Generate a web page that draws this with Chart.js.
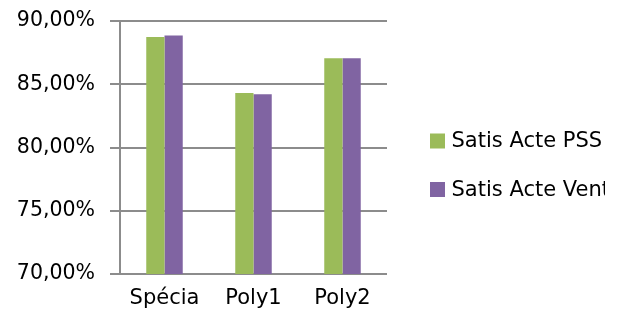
<!DOCTYPE html>
<html>
<head>
<meta charset="utf-8">
<script src="https://cdn.jsdelivr.net/npm/chart.js@4"></script>
<style>
  html, body { margin: 0; padding: 0; background: #fff; }
  #wrap { width: 622px; height: 322px; position: relative; }
</style>
</head>
<body>
<div id="wrap"><canvas id="satisChart" width="622" height="322"></canvas></div>
<script>
const categories = ["Spécia", "Poly1", "Poly2"];
const satisPss = [88.74, 84.31, 87.05];
const satisVente = [88.85, 84.21, 87.05];
const seriesNames = ["Satis Acte PSS", "Satis Acte Vente"];

const GRID = "#8c8c8c";
const FONT = "'DejaVu Sans', sans-serif";

// legend drawn by hand on the right, cut off like the original box
const sideLegend = {
  id: "sideLegend",
  afterDraw(chart) {
    const ctx = chart.ctx;
    ctx.save();
    ctx.beginPath();
    ctx.rect(0, 0, 605, chart.height);
    ctx.clip();
    ctx.font = "21px " + FONT;
    ctx.textBaseline = "middle";
    chart.data.datasets.forEach((ds, i) => {
      const y = 141 + i * 48.5;
      ctx.fillStyle = ds.backgroundColor;
      ctx.fillRect(430, y - 7.5, 15, 15);
      ctx.fillStyle = "#000";
      ctx.fillText(ds.label, 451.5, y + 1);
    });
    ctx.restore();
  },
};

new Chart(document.getElementById("satisChart"), {
  type: "bar",
  data: {
    labels: categories,
    datasets: [
      { label: seriesNames[0], data: satisPss, backgroundColor: "#9bbb59" },
      { label: seriesNames[1], data: satisVente, backgroundColor: "#8064a2" },
    ],
  },
  options: {
    responsive: false,
    animation: false,
    layout: { padding: { top: 21, right: 235, bottom: 0, left: 0 } },
    datasets: {
      bar: { categoryPercentage: 0.41, barPercentage: 1.0 },
    },
    plugins: {
      legend: { display: false },
      tooltip: { enabled: false },
    },
    scales: {
      x: {
        grid: { display: false, drawTicks: false },
        border: { display: false },
        ticks: {
          color: "#000",
          padding: 12,
          font: { family: FONT, size: 21 },
        },
        afterFit(axis) {
          axis.height = 48;
        },
      },
      y: {
        min: 70,
        max: 90,
        grid: { color: GRID, lineWidth: 2, tickLength: 10 },
        border: { display: true, color: GRID, width: 2 },
        ticks: {
          stepSize: 5,
          color: "#000",
          padding: 15,
          font: { family: FONT, size: 20.5 },
          callback: (v) => v.toFixed(2).replace(".", ",") + "%",
        },
        afterFit(axis) {
          axis.width = 120;
          axis.paddingTop = 0;
          axis.paddingBottom = 0;
        },
      },
    },
  },
  plugins: [sideLegend],
});
</script>
</body>
</html>
